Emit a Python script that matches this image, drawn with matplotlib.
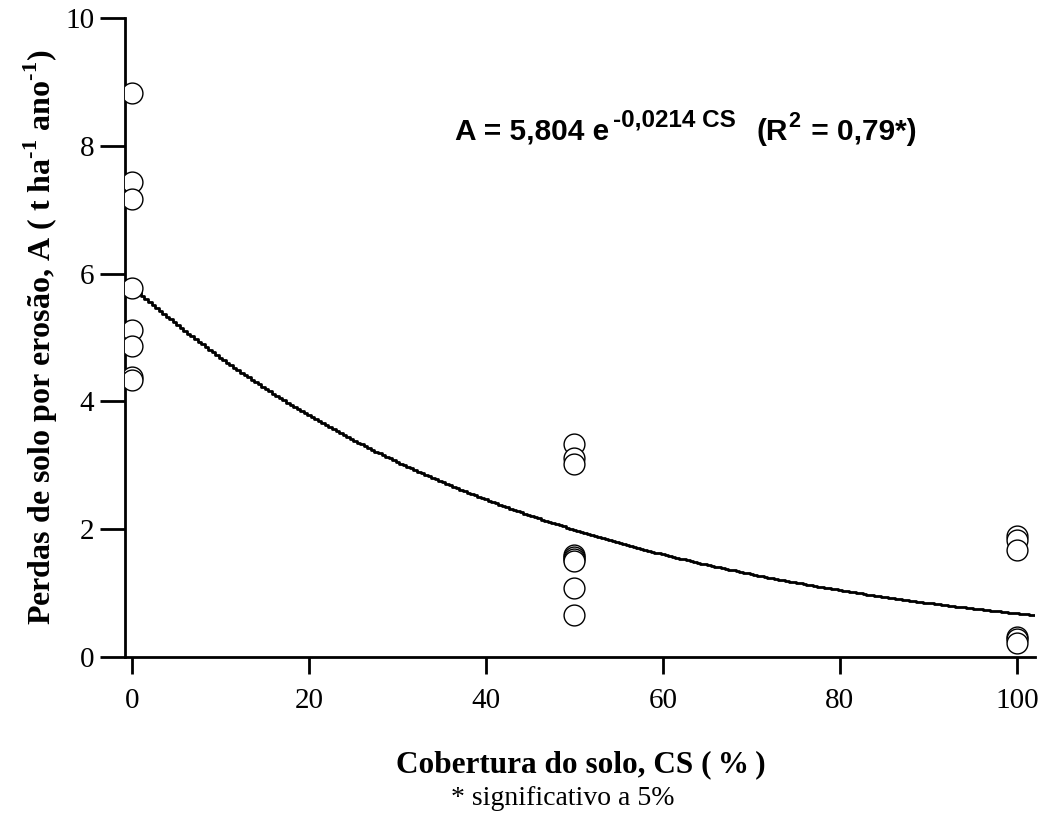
import numpy as np
import matplotlib
matplotlib.use("Agg")
import matplotlib.pyplot as plt

# Data
cs_0 = [0] * 8
a_0 = [8.82, 7.44, 7.16, 5.77, 5.12, 4.87, 4.38, 4.33]
cs_50 = [50] * 9
a_50 = [3.33, 3.12, 3.02, 1.60, 1.56, 1.53, 1.50, 1.08, 0.66]
cs_100 = [100] * 6
a_100 = [1.90, 1.83, 1.68, 0.31, 0.28, 0.22]

coef_a = 5.804
coef_b = -0.0214

x_ticks = [0, 20, 40, 60, 80, 100]
y_ticks = [0, 2, 4, 6, 8, 10]

plt.rcParams['mathtext.fontset'] = 'custom'
plt.rcParams['mathtext.rm'] = 'Liberation Serif:bold'
plt.rcParams['mathtext.bf'] = 'Liberation Serif:bold'

W, H = 1044, 818
fig = plt.figure(figsize=(W / 100, H / 100), dpi=100)
ax = fig.add_axes([0.1197, 0.1968, 0.8713, 0.7812])

xs = np.concatenate([cs_0, cs_50, cs_100])
ys = np.concatenate([a_0, a_50, a_100])
ax.plot(xs, ys, linestyle='none', marker='o', markersize=15,
        markerfacecolor='white', markeredgecolor='black', markeredgewidth=1.0,
        zorder=3)

xc = np.arange(-0.8, 102.01, 0.4)
yc = coef_a * np.exp(coef_b * xc)
ax.plot(xc, yc, color='black', linewidth=2.0, drawstyle='steps-mid', zorder=2)

ax.set_xlim(-0.8, 102)
ax.set_ylim(0, 10)
ax.set_xticks(x_ticks)
ax.set_yticks(y_ticks)
for s in ['top', 'right']:
    ax.spines[s].set_visible(False)
for s in ['left', 'bottom']:
    ax.spines[s].set_linewidth(2.0)
ax.tick_params(axis='x', direction='out', length=12, width=2, pad=10)
ax.tick_params(axis='y', direction='out', length=18, width=2, pad=4)
for lab in ax.get_xticklabels() + ax.get_yticklabels():
    lab.set_fontfamily('Liberation Serif')
    lab.set_fontsize(21)

fig.text(581 / W, 1 - 772 / H, 'Cobertura do solo, CS (\u2009%\u2009)',
         ha='center', va='baseline', fontfamily='Liberation Serif',
         fontweight='bold', fontsize=22.5)
ax.set_ylabel(r'Perdas de solo por erosão, A ( t ha$^{\mathrm{\text{-}1}}$ ano$^{\mathrm{\text{-}1}}$)',
              fontfamily='Liberation Serif', fontweight='bold', fontsize=23,
              labelpad=4)

fig.text(563 / W, 1 - 805 / H, '* significativo a 5%', ha='center', va='baseline',
         fontfamily='Liberation Serif', fontsize=20)

# Equation, composed of pieces (sans bold, hyphen-style minus)
eq_style = dict(fontfamily='Liberation Sans', fontweight='bold')
renderer = fig.canvas.get_renderer()
bx, by = 455, H - 140
pieces = [('A = 5,804 e', 21.5, 0, 0),
          ('-0,0214 CS', 17.5, 14, 4),
          ('(R', 21.5, 0, 20),
          ('2', 15.5, 13, 1),
          (' = 0,79*)', 21.5, 0, 3)]
cur_x = bx
for txt, fs, dy, gap in pieces:
    cur_x += gap
    t = fig.text(cur_x / W, (by + dy) / H, txt, ha='left', va='baseline',
                 fontsize=fs, **eq_style)
    cur_x = t.get_window_extent(renderer).x1

fig.savefig('out.png', dpi=100)
